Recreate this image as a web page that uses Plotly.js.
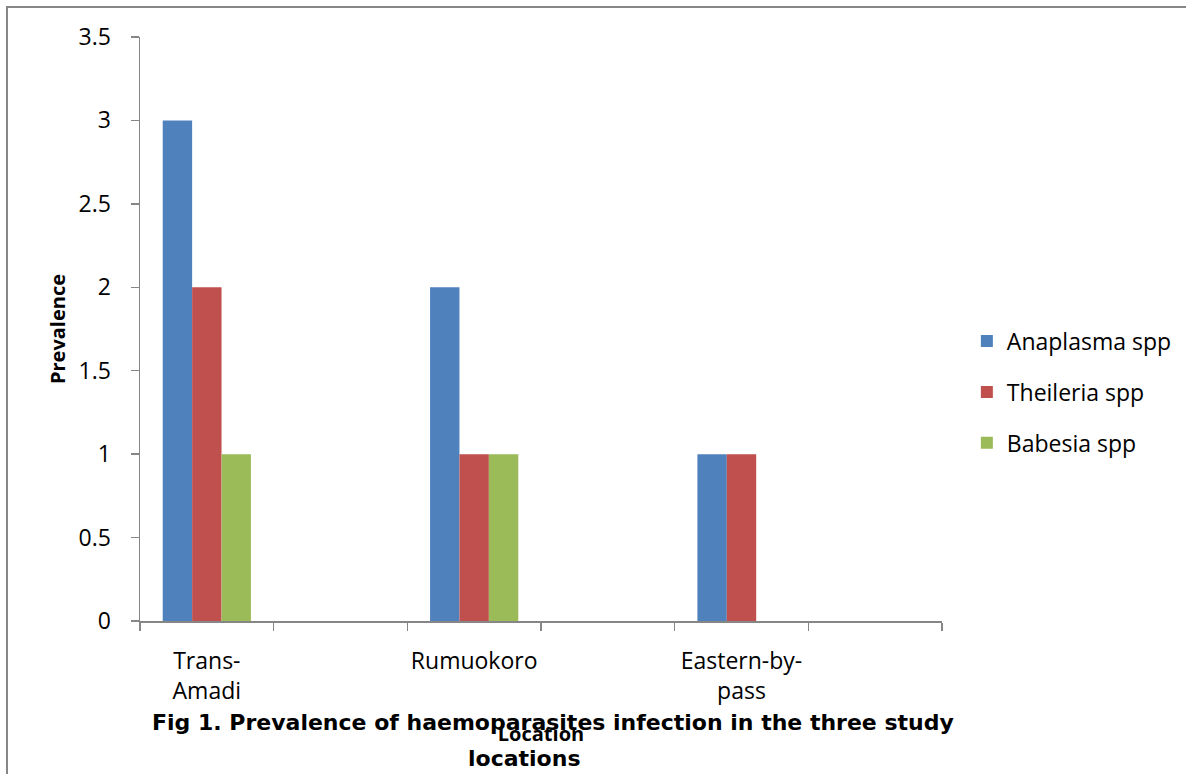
<!DOCTYPE html>
<html>
<head>
<meta charset="utf-8">
<script src="https://cdn.plot.ly/plotly-3.0.1.min.js"></script>
<style>
html,body{margin:0;padding:0;background:#fff;}
#chart{width:1186px;height:774px;}
</style>
</head>
<body>
<div id="chart"></div>
<script>
// Category slots on the x axis (blank slots between locations, as in the original)
const slots = ["Trans-<br>Amadi", " ", "Rumuokoro", "  ", "Eastern-by-<br>pass", "   "];
const locations = ["Trans-<br>Amadi", "Rumuokoro", "Eastern-by-<br>pass"];
const seriesNames = ["Anaplasma spp", "Theileria spp", "Babesia spp"];
const anaplasma = [3, 2, 1];
const theileria = [2, 1, 1];
const babesia = [1, 1, 0];
const yTicks = [0, 0.5, 1, 1.5, 2, 2.5, 3, 3.5];

const colors = ["#4F81BD", "#C0504D", "#9BBB59"];
const values = [anaplasma, theileria, babesia];
const barW = 0.22;
const FONT = "Open Sans, sans-serif";
const TFONT = "DejaVu Sans, sans-serif";

const traces = values.map((v, i) => ({
  type: "bar",
  name: seriesNames[i],
  x: locations,
  y: v,
  width: barW,
  offset: -1.5 * barW + i * barW,
  marker: {color: colors[i], line: {width: 0}},
  legendgroup: "g" + i,
  hoverinfo: "x+y+name"
}));

const layout = {
  width: 1186,
  height: 774,
  margin: {l: 140, r: 244, t: 37, b: 153, pad: 0, autoexpand: false},
  paper_bgcolor: "#ffffff",
  plot_bgcolor: "#ffffff",
  barmode: "overlay",
  font: {family: FONT, size: 23, color: "#000"},
  showlegend: true,
  legend: {
    x: 1.031, xanchor: "left",
    y: 0.392, yanchor: "middle",
    font: {family: FONT, size: 23, color: "#000"},
    tracegroupgap: 18,
    bgcolor: "rgba(0,0,0,0)"
  },
  xaxis: {
    type: "category",
    categoryorder: "array",
    categoryarray: slots,
    range: [-0.5, 5.5],
    tickson: "boundaries",
    tickangle: 0,
    automargin: false,
    ticks: "outside",
    ticklen: 8,
    tickwidth: 1.5,
    tickcolor: "#868686",
    showline: true,
    linecolor: "#868686",
    linewidth: 1.5,
    showgrid: false,
    zeroline: false,
    tickfont: {family: FONT, size: 23, color: "#000"},
    ticklabelstandoff: 19,
    title: {text: "Location", font: {family: FONT, size: 20, color: "#000", weight: "bold"}, standoff: 22}
  },
  yaxis: {
    range: [0, 3.5],
    tickvals: yTicks,
    automargin: false,
    ticks: "outside",
    ticklen: 8,
    tickwidth: 1.5,
    tickcolor: "#868686",
    showline: true,
    linecolor: "#868686",
    linewidth: 1.5,
    showgrid: false,
    zeroline: false,
    tickfont: {family: FONT, size: 23, color: "#000"},
    ticklabelstandoff: 15,
    title: {text: "Prevalence", font: {family: FONT, size: 20, color: "#000", weight: "bold"}, standoff: 7}
  },
  annotations: [
    {xref: "paper", yref: "paper", x: (553 - 140) / 802, y: (621 - 722) / 584,
     xanchor: "center", yanchor: "middle", showarrow: false,
     text: "<b>Fig 1. Prevalence of haemoparasites infection in the three study</b>",
     font: {family: TFONT, size: 22, color: "#000"}},
    {xref: "paper", yref: "paper", x: (524 - 140) / 802, y: (621 - 758) / 584,
     xanchor: "center", yanchor: "middle", showarrow: false,
     text: "<b>locations</b>",
     font: {family: TFONT, size: 22, color: "#000"}}
  ],
  shapes: [
    {type: "rect", xref: "paper", yref: "paper", layer: "below",
     x0: (7 - 140) / 802, x1: (1200 - 140) / 802,
     y0: (621 - 790) / 584, y1: (621 - 7) / 584,
     line: {color: "#878787", width: 2}, fillcolor: "rgba(0,0,0,0)"}
  ]
};

Plotly.newPlot("chart", traces, layout, {displayModeBar: false, staticPlot: true});
</script>
</body>
</html>
